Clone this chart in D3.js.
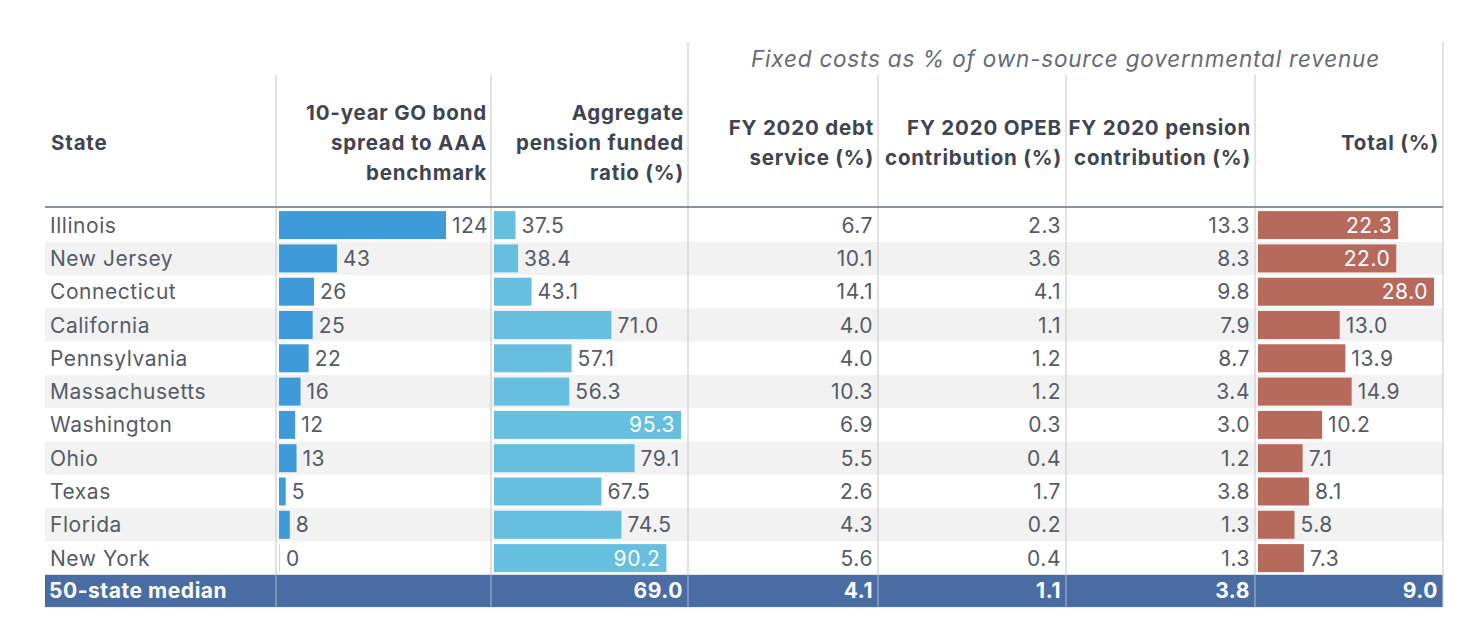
<!DOCTYPE html>
<html>
<head>
<meta charset="utf-8">
<script src="https://cdn.jsdelivr.net/npm/d3@7"></script>
<style>
  body { margin: 0; background: #fff; }
  svg { display: block; font-family: Inter, Roboto, "Noto Sans", sans-serif; }
</style>
</head>
<body>
<div id="chart"></div>
<script>
// data
const states = ["Illinois", "New Jersey", "Connecticut", "California", "Pennsylvania",
  "Massachusetts", "Washington", "Ohio", "Texas", "Florida", "New York"];
const bondSpread = [124, 43, 26, 25, 22, 16, 12, 13, 5, 8, 0];
const fundedRatio = [37.5, 38.4, 43.1, 71.0, 57.1, 56.3, 95.3, 79.1, 67.5, 74.5, 90.2];
const debtService = [6.7, 10.1, 14.1, 4.0, 4.0, 10.3, 6.9, 5.5, 2.6, 4.3, 5.6];
const opebContrib = [2.3, 3.6, 4.1, 1.1, 1.2, 1.2, 0.3, 0.4, 1.7, 0.2, 0.4];
const pensionContrib = [13.3, 8.3, 9.8, 7.9, 8.7, 3.4, 3.0, 1.2, 3.8, 1.3, 1.3];
const totalFixed = [22.3, 22.0, 28.0, 13.0, 13.9, 14.9, 10.2, 7.1, 8.1, 5.8, 7.3];
const medianLabel = "50-state median";
const medianValues = [null, 69.0, 4.1, 1.1, 3.8, 9.0];

const groupTitle = "Fixed costs as % of own-source governmental revenue";
const headers = [
  ["State"],
  ["10-year GO bond", "spread to AAA", "benchmark"],
  ["Aggregate", "pension funded", "ratio (%)"],
  ["FY 2020 debt", "service (%)"],
  ["FY 2020 OPEB", "contribution (%)"],
  ["FY 2020 pension", "contribution (%)"],
  ["Total (%)"]
];

// layout
const W = 1476, H = 626;
const colX = [45, 276, 491, 688, 878, 1066, 1255, 1443];
const headTop = 75, groupTop = 42, headBottom = 208;
const rowH = 33.3;
const textCol = "#555b66";
const headCol = "#3f4550";

const svg = d3.select("#chart").append("svg")
  .attr("width", W).attr("height", H);

const rowTop = i => headBottom + 0.5 + i * rowH;

// stripes
svg.append("g").selectAll("rect")
  .data(states)
  .join("rect")
  .attr("x", colX[0]).attr("width", colX[7] - colX[0])
  .attr("y", (d, i) => rowTop(i)).attr("height", rowH)
  .attr("fill", (d, i) => i % 2 ? "#f2f2f2" : "#fff");

// median row
const medY = rowTop(states.length);
svg.append("rect")
  .attr("x", colX[0]).attr("width", colX[7] - colX[0])
  .attr("y", medY).attr("height", rowH - 1)
  .attr("fill", "#4a6ca5");

// vertical dividers
const tableBottom = medY + rowH - 1;
svg.append("g").selectAll("line")
  .data(colX.slice(1))
  .join("line")
  .attr("x1", d => d).attr("x2", d => d)
  .attr("y1", (d, i) => (i === 2 || i === 6) ? groupTop : headTop)
  .attr("y2", tableBottom)
  .attr("stroke", "#cfcfcf")
  .attr("stroke-width", 1.2);
svg.append("g").selectAll("line")
  .data(colX.slice(1, 7))
  .join("line")
  .attr("x1", d => d).attr("x2", d => d)
  .attr("y1", medY).attr("y2", tableBottom)
  .attr("stroke", "#6b88b8").attr("stroke-width", 1.2);

// header underline
svg.append("line")
  .attr("x1", colX[0]).attr("x2", colX[7])
  .attr("y1", headBottom - 1).attr("y2", headBottom - 1)
  .attr("stroke", "#8593a6").attr("stroke-width", 2);

// group title
svg.append("text")
  .attr("x", (colX[3] + colX[7]) / 2).attr("y", 67)
  .attr("text-anchor", "middle")
  .attr("font-size", 22.5).attr("font-style", "italic")
  .attr("letter-spacing", 0.8)
  .attr("fill", "#666b73")
  .text(groupTitle);

// column headers
const lineGap = 30;
headers.forEach((lines, c) => {
  const left = c === 0;
  const x = left ? colX[0] + 6 : colX[c + 1] - 4;
  const mid = 143;
  const y0 = mid - (lines.length - 1) * lineGap / 2 + 7;
  svg.append("text")
    .attr("x", x)
    .attr("text-anchor", left ? "start" : "end")
    .attr("font-size", 20.5).attr("font-weight", "bold")
    .attr("letter-spacing", 0.8)
    .attr("fill", headCol)
    .selectAll("tspan")
    .data(lines)
    .join("tspan")
    .attr("x", x)
    .attr("y", (d, i) => y0 + i * lineGap)
    .text(d => d);
});

const fontSize = 21;
const spacing = 0.55;
const baseline = i => rowTop(i) + rowH / 2 + 7.5;

// state names
svg.append("g").selectAll("text")
  .data(states)
  .join("text")
  .attr("x", colX[0] + 5).attr("y", (d, i) => baseline(i))
  .attr("font-size", fontSize).attr("letter-spacing", spacing).attr("fill", textCol)
  .text(d => d);

// bar columns
const barCols = [
  { values: bondSpread, col: 1, color: "#3e9ad8", domain: [0, 124], width: 167, fmt: d3.format("d"), insideAbove: Infinity },
  { values: fundedRatio, col: 2, color: "#66bfdf", domain: [30, 95.3], width: 187, fmt: d3.format(".1f"), insideAbove: 85 },
  { values: totalFixed, col: 6, color: "#b76a5c", domain: [0, 28], width: 176, fmt: d3.format(".1f"), insideAbove: 20 }
];

const barInset = 2.6, barH = 28;
barCols.forEach(bc => {
  const x0 = colX[bc.col] + 3;
  const sx = d3.scaleLinear().domain(bc.domain).range([0, bc.width]);
  const g = svg.append("g");
  g.selectAll("rect")
    .data(bc.values)
    .join("rect")
    .attr("x", x0)
    .attr("y", (d, i) => rowTop(i) + barInset)
    .attr("height", barH)
    .attr("width", d => Math.max(1, sx(d)))
    .attr("fill", bc.color)
    .attr("opacity", d => sx(d) < 1 ? 0.35 : 1);
  g.selectAll("text")
    .data(bc.values)
    .join("text")
    .attr("y", (d, i) => baseline(i))
    .attr("font-size", fontSize).attr("letter-spacing", spacing)
    .each(function (d) {
      const inside = d > bc.insideAbove;
      d3.select(this)
        .attr("x", inside ? x0 + sx(d) - 6 : x0 + Math.max(1, sx(d)) + 6)
        .attr("text-anchor", inside ? "end" : "start")
        .attr("fill", inside ? "#fff" : textCol);
    })
    .text(d => bc.fmt(d));
});

// plain numeric columns
[[debtService, 3], [opebContrib, 4], [pensionContrib, 5]].forEach(([vals, col]) => {
  svg.append("g").selectAll("text")
    .data(vals)
    .join("text")
    .attr("x", colX[col + 1] - 5).attr("y", (d, i) => baseline(i))
    .attr("text-anchor", "end")
    .attr("font-size", fontSize).attr("letter-spacing", spacing).attr("fill", textCol)
    .text(d => d3.format(".1f")(d));
});

// median texts
const mb = baseline(states.length) - 1;
svg.append("text")
  .attr("x", colX[0] + 4).attr("y", mb)
  .attr("font-size", fontSize).attr("letter-spacing", spacing)
  .attr("font-weight", "bold").attr("fill", "#fff")
  .text(medianLabel);
svg.append("g").selectAll("text")
  .data(medianValues.map((v, i) => ({ v, col: i + 1 })).filter(d => d.v !== null))
  .join("text")
  .attr("x", d => colX[d.col + 1] - 5).attr("y", mb)
  .attr("text-anchor", "end")
  .attr("font-size", fontSize).attr("letter-spacing", spacing)
  .attr("font-weight", "bold").attr("fill", "#fff")
  .text(d => d3.format(".1f")(d.v));
</script>
</body>
</html>
